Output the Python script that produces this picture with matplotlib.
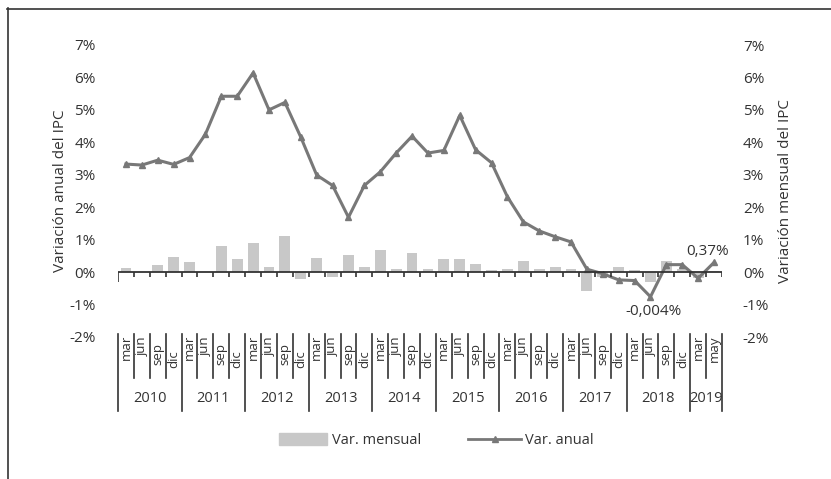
import matplotlib
matplotlib.use("Agg")
import matplotlib.pyplot as plt
from matplotlib.patches import Rectangle
from matplotlib.lines import Line2D
import matplotlib.transforms as mtransforms

plt.rcParams['font.family'] = ['Open Sans', 'DejaVu Sans']

years = ["2010", "2011", "2012", "2013", "2014", "2015", "2016", "2017", "2018", "2019"]
months_per_year = [["mar", "jun", "sep", "dic"]] * 9 + [["mar", "may"]]
months = [m for ms in months_per_year for m in ms]

var_anual = [3.33, 3.30, 3.45, 3.32, 3.53, 4.25, 5.42, 5.42, 6.14, 5.00, 5.23, 4.16,
             2.99, 2.67, 1.69, 2.67, 3.09, 3.67, 4.19, 3.67, 3.75, 4.83, 3.77, 3.37,
             2.32, 1.55, 1.27, 1.09, 0.93, 0.09, -0.05, -0.24, -0.26, -0.76, 0.23, 0.23,
             -0.19, 0.30]
var_mensual = [0.14, 0.01, 0.23, 0.48, 0.32, 0.01, 0.79, 0.39, 0.89, 0.17, 1.10, -0.20,
               0.42, -0.16, 0.54, 0.17, 0.67, 0.10, 0.60, 0.10, 0.39, 0.39, 0.26, 0.07,
               0.10, 0.35, 0.10, 0.17, 0.10, -0.57, -0.15, 0.17, 0.07, -0.32, 0.34, 0.10,
               -0.19, 0.02]
yticks = [-2, -1, 0, 1, 2, 3, 4, 5, 6, 7]
annotations = [("-0,004%", 33.2, -1.2), ("0,37%", 36.6, 0.62)]

W, H = 831, 479
fig = plt.figure(figsize=(W / 100, H / 100), dpi=100)
ax = fig.add_axes([118 / W, (H - 337) / H, (722 - 118) / W, (337 - 45) / H])
ax2 = ax.twinx()

TXT = "#333333"
n = len(months)
x = list(range(n))

ax.bar(x, var_mensual, width=0.68, color="#c8c8c8", zorder=2)
ax.plot(x, var_anual, color="#787878", lw=2.2, marker="^", ms=5, zorder=3)

ax.set_xlim(-0.5, n - 0.5)
for a in (ax, ax2):
    a.set_ylim(-2, 7)
    a.set_yticks(yticks)
    a.set_yticklabels([f"{t}%" for t in yticks])
    for s in a.spines.values():
        s.set_visible(False)
    a.tick_params(length=0, labelsize=11, colors=TXT)
ax.tick_params(axis='y', pad=16)
ax2.tick_params(axis='y', pad=15)
ax.set_xticks([])

ax.set_ylabel("Variación anual del IPC", fontsize=11, color=TXT, labelpad=1)
ax2.set_ylabel("Variación mensual del IPC", fontsize=11, color=TXT, labelpad=6)

# zero axis with ticks
ax.axhline(0, color="#333333", lw=1.3, zorder=4)
for b in range(n + 1):
    ln = 0.32 if b == 0 else 0.14
    ax.plot([b - 0.5, b - 0.5], [0, -ln], color="#333333", lw=1.2, zorder=4,
            solid_capstyle='butt')

for txt, xx, yy in annotations:
    ax.text(xx, yy, txt, ha="center", va="center", fontsize=11, color=TXT)

# multi-level category labels
trans = mtransforms.blended_transform_factory(ax.transData, fig.transFigure)
def fy(py):
    return (H - py) / H

month_off = {"mar": 335, "jun": 336, "sep": 343, "dic": 350, "may": 335}
idx = 0
year_bounds = [-0.5]
for y, ms in zip(years, months_per_year):
    for m in ms:
        ax.text(idx, fy(month_off[m]), m, rotation=90, ha="center", va="top",
                fontsize=9.5, color=TXT, transform=trans, clip_on=False)
        idx += 1
    year_bounds.append(idx - 0.5)
for b in range(n + 1):
    xb = b - 0.5
    bottom = 411 if xb in year_bounds else 378
    fig.add_artist(Line2D([xb, xb], [fy(334), fy(bottom)], color="#333333", lw=1.2,
                          transform=trans))
for i, y in enumerate(years):
    xc = (year_bounds[i] + year_bounds[i + 1]) / 2
    ax.text(xc, fy(398), y, ha="center", va="center", fontsize=10.5, color=TXT,
            transform=trans, clip_on=False)

# legend
fig.add_artist(Rectangle((279 / W, fy(445)), 48 / W, 12 / H, transform=fig.transFigure,
                         color="#c8c8c8"))
fig.text(332 / W, fy(440), "Var. mensual", fontsize=10.5, color=TXT, va="center")
fig.add_artist(Line2D([468 / W, 521 / W], [fy(439), fy(439)], color="#787878", lw=2,
                      transform=fig.transFigure))
fig.add_artist(Line2D([494.5 / W], [fy(439)], color="#787878", marker="^", ms=4,
                      transform=fig.transFigure))
fig.text(525 / W, fy(440), "Var. anual", fontsize=10.5, color=TXT, va="center")

# outer frame (left and top)
fig.add_artist(Line2D([7.5 / W, 7.5 / W], [fy(8), 0], color="#333333", lw=1.2,
                      transform=fig.transFigure))
fig.add_artist(Line2D([7 / W, 1], [fy(8.5), fy(8.5)], color="#333333", lw=1.2,
                      transform=fig.transFigure))

fig.savefig("out.png", dpi=100)
